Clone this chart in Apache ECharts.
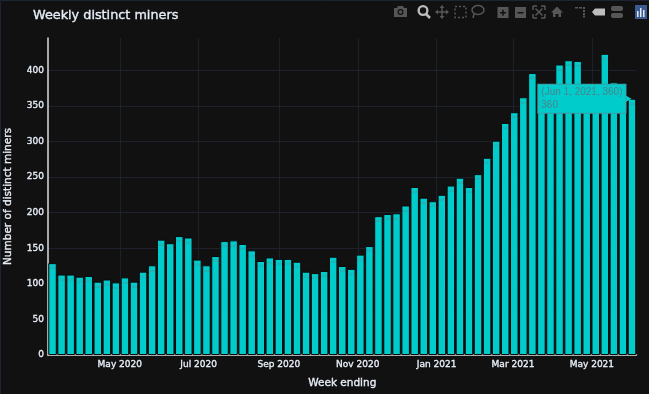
<!DOCTYPE html>
<html>
<head>
<meta charset="utf-8">
<style>html,body{margin:0;padding:0;background:#111111}#c{width:649px;height:394px}</style>
<script src="https://cdn.jsdelivr.net/npm/echarts@6/dist/echarts.min.js"></script>
</head>
<body>
<div id="c"></div>
<script>
const weekEnding = [
"2020-03-10","2020-03-17","2020-03-24","2020-03-31","2020-04-07","2020-04-14","2020-04-21","2020-04-28",
"2020-05-05","2020-05-12","2020-05-19","2020-05-26","2020-06-02","2020-06-09","2020-06-16","2020-06-23","2020-06-30",
"2020-07-07","2020-07-14","2020-07-21","2020-07-28","2020-08-04","2020-08-11","2020-08-18","2020-08-25",
"2020-09-01","2020-09-08","2020-09-15","2020-09-22","2020-09-29","2020-10-06","2020-10-13","2020-10-20","2020-10-27",
"2020-11-03","2020-11-10","2020-11-17","2020-11-24","2020-12-01","2020-12-08","2020-12-15","2020-12-22","2020-12-29",
"2021-01-05","2021-01-12","2021-01-19","2021-01-26","2021-02-02","2021-02-09","2021-02-16","2021-02-23",
"2021-03-02","2021-03-09","2021-03-16","2021-03-23","2021-03-30","2021-04-06","2021-04-13","2021-04-20","2021-04-27",
"2021-05-04","2021-05-11","2021-05-18","2021-05-25","2021-06-01"];
const miners = [129,113,113,110,111,103,106,102,109,103,117,126,162,157,167,165,134,126,139,160,161,156,147,132,137,135,135,131,117,115,118,
138,125,121,141,153,195,198,199,210,236,221,216,225,238,249,236,254,277,301,326,341,362,396,377,363,408,414,413,366,373,423,383,359,360];
const xTickDates = ["2020-05-01","2020-07-01","2020-09-01","2020-11-01","2021-01-01","2021-03-01","2021-05-01"];
const xTickLabels = {"2020-05":"May 2020","2020-07":"Jul 2020","2020-09":"Sep 2020","2020-11":"Nov 2020","2021-01":"Jan 2021","2021-03":"Mar 2021","2021-05":"May 2021"};
const yTicks = [0,50,100,150,200,250,300,350,400];
const titleText = "Weekly distinct miners";
const xTitle = "Week ending";
const yTitle = "Number of distinct miners";
const hoverDate = "2021-06-01", hoverValue = 360;
const hoverLine1 = "(Jun 1, 2021, 360)", hoverLine2 = "360";

const FONT = '"DejaVu Sans", Verdana, sans-serif';
const TEAL = '#00cccc';
const INK = '#e6edf7';
const tsOf = d => Date.parse(d + 'T00:00:00Z');
const xTs = xTickDates.map(tsOf);
const DAY = 86400000;
const G = '#565656', L = '#bdbdbd', BG = '#111111';

const R = (x,y,w,h,fill) => ({type:'rect',silent:true,shape:{x,y,width:w,height:h},style:{fill:fill||G}});
const RR = (x,y,w,h,r,fill) => ({type:'rect',silent:true,shape:{x,y,width:w,height:h,r},style:{fill:fill||G}});
const P = (pts,fill) => ({type:'polygon',silent:true,shape:{points:pts},style:{fill:fill||G}});
const C = (cx,cy,r,fill) => ({type:'circle',silent:true,shape:{cx,cy,r},style:{fill:fill||G}});
const LN = (x1,y1,x2,y2,c,w) => ({type:'line',silent:true,shape:{x1,y1,x2,y2},style:{stroke:c||G,lineWidth:w||1.5}});
const graphics = [
  {type:'rect',silent:true,shape:{x:0.5,y:0.5,width:660,height:400},style:{fill:'none',stroke:'#1d2433',lineWidth:1},z:100},
  P([[394,8],[397,8],[398,6],[403,6],[404,8],[407,8],[407,17],[394,17]]), C(400.5,12,3,BG), C(400.5,12,1.8,G),
  LN(426,14,430,18,L,2.5), C(423,10.5,5.5,L), C(423,10.5,3.2,BG),
  LN(436,12,448,12,G,1.5), LN(442,6,442,18,G,1.5),
  P([[442,5],[444.5,8],[439.5,8]]), P([[442,19],[444.5,16],[439.5,16]]), P([[435,12],[438,9.5],[438,14.5]]), P([[449,12],[446,9.5],[446,14.5]]),
  {type:'rect',silent:true,shape:{x:455,y:6.5,width:11,height:11},style:{fill:'none',stroke:G,lineWidth:1.5,lineDash:[2,2]}},
  {type:'ellipse',silent:true,shape:{cx:478,cy:10,rx:6,ry:4.5},style:{fill:'none',stroke:G,lineWidth:1.5}},
  LN(474,14,473,18),
  R(497.5,7,11,11), R(500,12,6,1.5,BG), R(502.2,9.7,1.5,6,BG),
  R(515,7,11,11), R(517.5,12,6,1.5,BG),
  LN(533,10,533,6), LN(533,6,537,6), LN(541,6,545,6), LN(545,6,545,10), LN(533,14,533,18), LN(533,18,537,18), LN(541,18,545,18), LN(545,18,545,14),
  LN(535.5,8.5,542.5,15.5), LN(542.5,8.5,535.5,15.5),
  P([[557,6.5],[563,12.5],[561,12.5],[561,17],[558.5,17],[558.5,14],[555.5,14],[555.5,17],[553,17],[553,12.5],[551,12.5]]),
  R(575,7,3,1.5), R(579,7,3,1.5), R(583,7,2,2), R(583,10,2,2), R(583,13,2,2), R(583,15.5,2,2),
  P([[592,12],[595,8.5],[605,8.5],[605,15.5],[595,15.5]],L),
  RR(611,6,12,5,2), RR(611,13,12,5,2),
  R(635,5,12,14,'#3b5a8f'), R(637,11,1.5,6,'#dfe7f5'), R(640,8,1.5,9,'#dfe7f5'), R(643,10,1.5,7,'#dfe7f5')
];
const boldish = {textBorderColor:INK,textBorderWidth:0.35};

const chart = echarts.init(document.getElementById('c'), null, {renderer:'canvas', width:649, height:394});
chart.setOption({
  animation:false,
  backgroundColor:BG,
  title:{text:titleText,left:33,top:9,padding:0,textStyle:{color:INK,fontFamily:FONT,fontSize:12.8,fontWeight:'normal',...boldish}},
  graphic:graphics,
  grid:{left:48,right:12.5,top:38,bottom:39,containLabel:false,outerBoundsMode:'none'},
  xAxis:{
    type:'value',
    min:tsOf(weekEnding[0]) - 3.5*DAY,
    max:tsOf(weekEnding[weekEnding.length-1]) + 3.5*DAY,
    name:xTitle,nameLocation:'middle',nameGap:23,
    nameTextStyle:{color:INK,fontFamily:FONT,fontSize:10.5,...boldish},
    axisLine:{show:true,onZero:false,lineStyle:{color:'#dcdcdc',width:1.5}},
    axisTick:{show:false,customValues:xTs},
    axisLabel:{color:INK,fontFamily:FONT,fontSize:9,margin:5,hideOverlap:false,...boldish,
      customValues:xTs,
      formatter:v=>{const d=new Date(v);const k=d.getUTCFullYear()+'-'+String(d.getUTCMonth()+1).padStart(2,'0');return xTickLabels[k]||'';}},
    splitLine:{show:true,lineStyle:{color:'#1c212b',width:1}}
  },
  yAxis:{
    type:'value',min:0,max:445.2,
    name:yTitle,nameLocation:'middle',nameGap:34,
    nameTextStyle:{color:INK,fontFamily:FONT,fontSize:10.5,...boldish},
    axisLine:{show:true,lineStyle:{color:'#dcdcdc',width:1.5}},
    axisTick:{show:false,customValues:yTicks},
    axisLabel:{color:INK,fontFamily:FONT,fontSize:9,margin:4,customValues:yTicks,...boldish},
    splitLine:{show:true,lineStyle:{color:'#1c212b',width:1}}
  },
  tooltip:{show:false},
  series:[{
    type:'bar',
    data:weekEnding.map((d,i)=>[tsOf(d),miners[i]]),
    barWidth:8.5,
    itemStyle:{color:TEAL,borderColor:'#0a0a0a',borderWidth:1},
    label:{show:true,position:'insideTop',distance:4,fontSize:3,color:'#4f8d92',fontFamily:FONT,
      formatter:p=>p.value[1]},
    markPoint:{
      silent:true,
      animation:false,
      z:20,
      data:[{
        coord:[tsOf(hoverDate),hoverValue],
        symbol:'triangle',symbolSize:[8,7],symbolRotate:-90,symbolOffset:[-4,0],
        itemStyle:{color:TEAL},
        label:{
          show:true,position:'left',distance:-1,align:'right',
          formatter:'{a|'+hoverLine1+'}\n{a|'+hoverLine2+'}',
          backgroundColor:TEAL,borderColor:'#3f9da2',borderWidth:1,
          padding:[1,3,1,3],
          rich:{a:{color:'#4c8389',fontFamily:'"Liberation Sans", Arial, sans-serif',fontSize:10,lineHeight:13,align:'left'}}
        }
      }]
    }
  }]
});
</script>
</body>
</html>
